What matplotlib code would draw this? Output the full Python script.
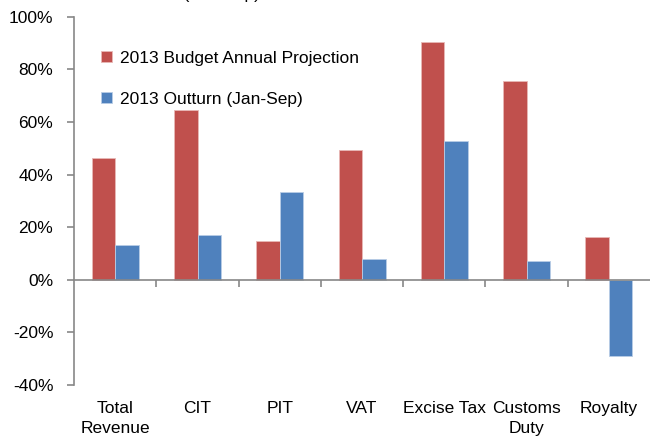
import numpy as np
import matplotlib
matplotlib.use("Agg")
from matplotlib import pyplot as plt
from matplotlib.ticker import PercentFormatter

categories = ["Total\nRevenue", "CIT", "PIT", "VAT", "Excise Tax", "Customs\nDuty", "Royalty"]
budget = [46.3, 64.6, 14.7, 49.5, 90.5, 75.6, 16.2]
outturn = [13.2, 16.9, 33.5, 7.9, 52.8, 7.3, -29.0]
series_names = ["2013 Budget Annual Projection", "2013 Outturn (Jan-Sep)"]

red = "#C0504D"
blue = "#4F81BD"
grey = "#878787"

plt.rcParams['font.family'] = ['Liberation Sans', 'DejaVu Sans']
plt.rcParams['axes.unicode_minus'] = False
fs = 12.5

fig = plt.figure(figsize=(6.5, 4.44), dpi=100)
ax = fig.add_axes([0.114, 0.133, 0.886, 0.829])

x = np.arange(len(categories))
w = 1 / 3.5
ax.bar(x - w / 2, budget, w, color=red, edgecolor="#e8b8b6", linewidth=0.6, label=series_names[0])
ax.bar(x + w / 2, outturn, w, color=blue, edgecolor="#b9cde6", linewidth=0.6, label=series_names[1])

ax.set_xlim(-0.5, len(categories) - 0.5)
ax.set_ylim(-40, 100)
ax.set_yticks(np.arange(-40, 101, 20))
ax.yaxis.set_major_formatter(PercentFormatter(decimals=0))

# category axis crosses at zero, tick marks between categories
ax.spines['bottom'].set_position(('data', 0))
ax.spines['top'].set_visible(False)
ax.spines['right'].set_visible(False)
for s in ['left', 'bottom']:
    ax.spines[s].set_color(grey)
    ax.spines[s].set_linewidth(1.2)
ax.set_xticks(np.arange(0.5, len(categories) - 0.5, 1))
ax.set_xticklabels([])
ax.tick_params(axis='x', length=5, color=grey, width=1.2)
ax.tick_params(axis='y', length=5, color=grey, width=1.2, labelsize=fs, pad=10)

for xi, lab in zip(x, categories):
    ax.text(xi, -46, lab, ha='center', va='top', fontsize=fs, linespacing=1.45)

ax.legend(loc='upper left', bbox_to_anchor=(0.02, 0.95), frameon=False, fontsize=fs,
          handlelength=0.6, handleheight=0.6, labelspacing=1.5, handletextpad=0.5)

fig.text(140 / 650, 1 + 1.5 / 444, "2013 (Jan-Sep)", fontsize=fs, va='baseline', ha='left')

fig.savefig("out.png", dpi=100)
